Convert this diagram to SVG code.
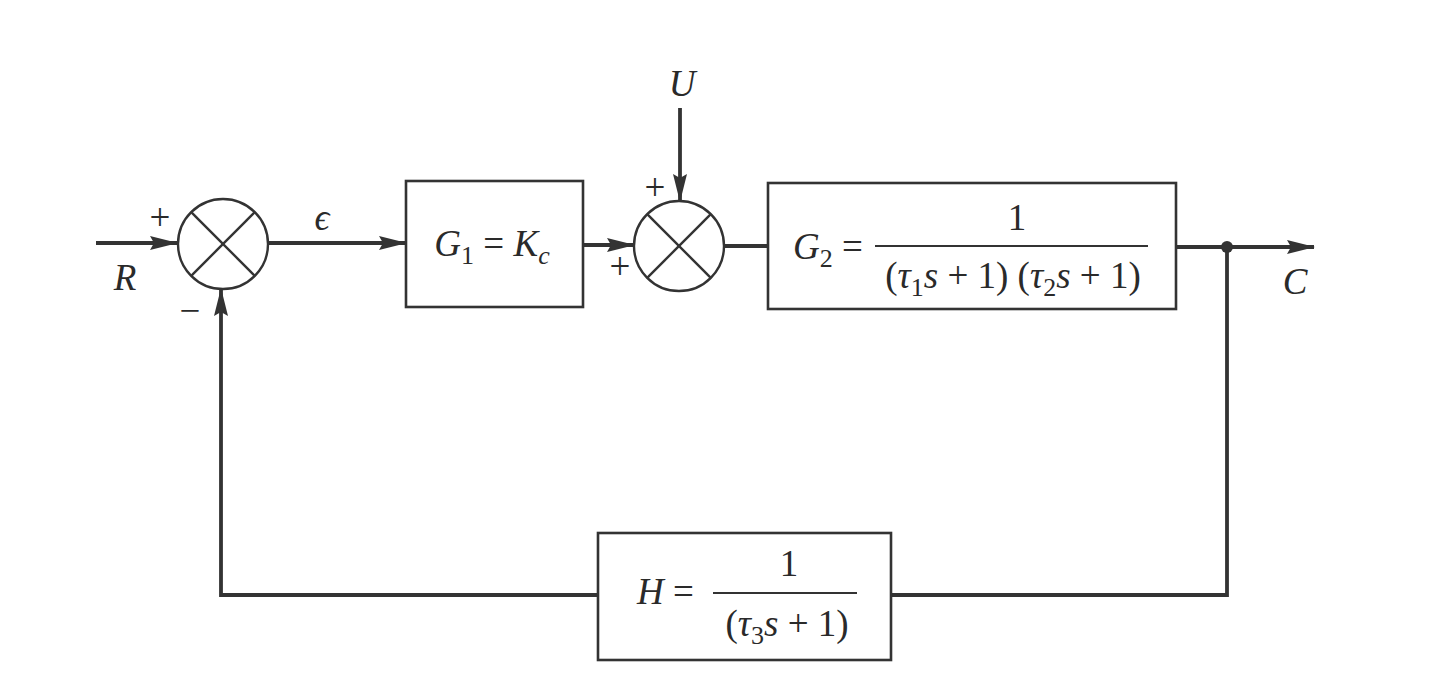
<svg xmlns="http://www.w3.org/2000/svg" width="1455" height="682" viewBox="0 0 1455 682">
<style>
.box{fill:none;stroke:#333;stroke-width:2.6}
.sum{fill:none;stroke:#333;stroke-width:2.4}
.ln{fill:none;stroke:#333;stroke-width:3.8}
.t{font-family:"Liberation Serif","DejaVu Serif",serif;font-size:37px;fill:#2a2a2a}
.i{font-style:italic}
.sub{font-size:26px}
.frac{stroke:#333;stroke-width:2.2}
</style>
<defs>
<marker id="ah" markerWidth="28" markerHeight="14" refX="27" refY="7" orient="auto" markerUnits="userSpaceOnUse">
<path d="M0,0 L28,7 L0,14 L4,7 Z" fill="#333"/>
</marker>
</defs>
<rect width="1455" height="682" fill="#fff"/>
<g id="connectors">
<line class="ln" x1="96" y1="243" x2="177" y2="243" marker-end="url(#ah)"/>
<line class="ln" x1="268" y1="243" x2="406" y2="243" marker-end="url(#ah)"/>
<line class="ln" x1="583" y1="245" x2="634" y2="245" marker-end="url(#ah)"/>
<line class="ln" x1="680" y1="108" x2="680" y2="201" marker-end="url(#ah)"/>
<line class="ln" x1="724" y1="246" x2="768" y2="246"/>
<line class="ln" x1="1176" y1="247" x2="1314" y2="247" marker-end="url(#ah)"/>
<polyline class="ln" points="1227,247 1227,595 891,595"/>
<polyline class="ln" points="598,595 221,595 221,289" marker-end="url(#ah)"/>
<circle cx="1227" cy="247" r="6" fill="#333"/>
</g>
<g id="sum1">
<circle class="sum" cx="223" cy="244" r="45"/>
<line class="sum" x1="191.2" y1="212.2" x2="254.8" y2="275.8"/>
<line class="sum" x1="254.8" y1="212.2" x2="191.2" y2="275.8"/>
<text class="t" x="160" y="230" text-anchor="middle" font-size="34">+</text>
<text class="t" x="190" y="323" text-anchor="middle" font-size="34">−</text>
</g>
<g id="sum2">
<circle class="sum" cx="679" cy="246" r="45"/>
<line class="sum" x1="647.2" y1="214.2" x2="710.8" y2="277.8"/>
<line class="sum" x1="710.8" y1="214.2" x2="647.2" y2="277.8"/>
<text class="t" x="655" y="200" text-anchor="middle" font-size="34">+</text>
<text class="t" x="620" y="279" text-anchor="middle" font-size="34">+</text>
</g>
<g id="labels">
<text class="t i" x="125" y="290" text-anchor="middle">R</text>
<text class="t i" x="322" y="230" text-anchor="middle">ϵ</text>
<text class="t i" x="682" y="96" text-anchor="middle">U</text>
<text class="t i" x="1295" y="294" text-anchor="middle">C</text>
</g>
<g id="G1">
<rect class="box" x="406" y="181" width="177" height="126"/>
<text class="t" x="492" y="256" text-anchor="middle"><tspan class="i">G</tspan><tspan class="sub" dy="8">1</tspan><tspan dy="-8"> = </tspan><tspan class="i">K</tspan><tspan class="sub i" dy="8">c</tspan></text>
</g>
<g id="G2">
<rect class="box" x="768" y="183" width="408" height="126"/>
<text class="t" x="793" y="259"><tspan class="i">G</tspan><tspan class="sub" dy="8">2</tspan><tspan dy="-8"> =</tspan></text>
<line class="frac" x1="875" y1="246" x2="1148" y2="246"/>
<text class="t" x="1017" y="230" text-anchor="middle">1</text>
<text class="t" x="1013" y="288" text-anchor="middle">(<tspan class="i">τ</tspan><tspan class="sub" dy="8">1</tspan><tspan class="i" dy="-8">s</tspan> + 1) (<tspan class="i">τ</tspan><tspan class="sub" dy="8">2</tspan><tspan class="i" dy="-8">s</tspan> + 1)</text>
</g>
<g id="H">
<rect class="box" x="598" y="533" width="293" height="127"/>
<text class="t" x="637" y="604"><tspan class="i">H</tspan> =</text>
<line class="frac" x1="713" y1="593" x2="857" y2="593"/>
<text class="t" x="789" y="576" text-anchor="middle">1</text>
<text class="t" x="787" y="636" text-anchor="middle">(<tspan class="i">τ</tspan><tspan class="sub" dy="8">3</tspan><tspan class="i" dy="-8">s</tspan> + 1)</text>
</g>
</svg>
